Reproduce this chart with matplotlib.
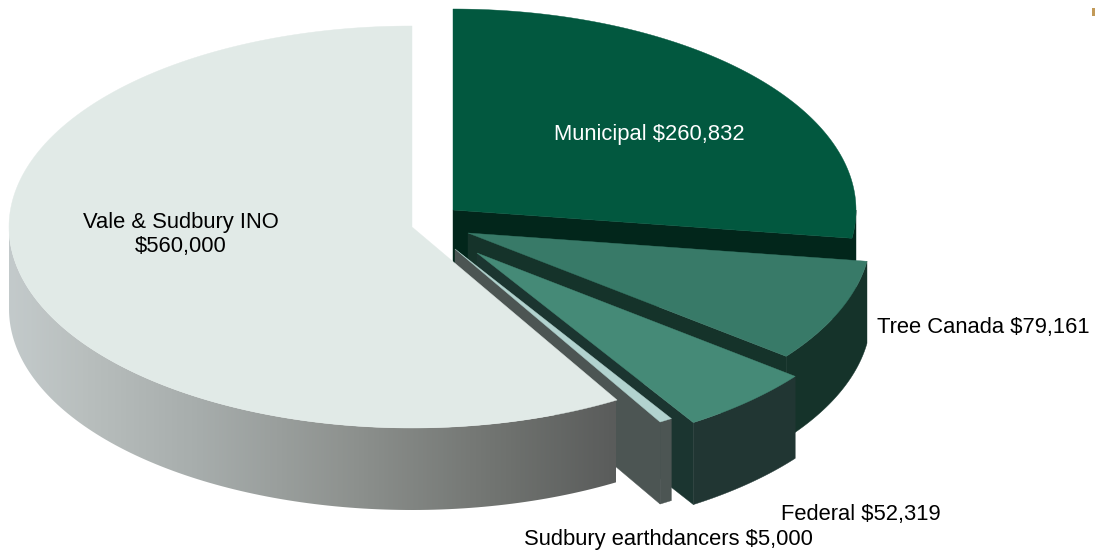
import numpy as np
import matplotlib
matplotlib.use("Agg")
import matplotlib.pyplot as plt
from matplotlib.patches import Polygon, Rectangle
from matplotlib.colors import LinearSegmentedColormap

# Data
categories = ["Municipal", "Tree Canada", "Federal", "Sudbury earthdancers", "Vale & Sudbury INO"]
values = [260832, 79161, 52319, 5000, 560000]
labels = ["Municipal $260,832", "Tree Canada $79,161", "Federal $52,319",
          "Sudbury earthdancers $5,000", "Vale & Sudbury INO\n$560,000"]

# Style / layout
apex = [(453, 210), (468, 233), (477, 253), (455, 249), (412, 227)]
top_colors = ["#02583f", "#387a68", "#458a77", "#b2d3cf", "#e1eae7"]
cut_colors = ["#02261b", "#15332a", "#1b3530", "#4c5553", "#5b5d5c"]
rim_colors = ["#02261b", "#15332a", "#213633", "#4c5553", None]
label_pos = [(649, 134.5, "center", "white"), (877, 328, "left", "black"),
             (781, 514.5, "left", "black"), (524, 539, "left", "black"),
             (181, 234.5, "center", "black")]
A, B, DEPTH = 403, 201, 82

plt.rcParams["font.family"] = ["Liberation Sans", "DejaVu Sans"]
fig = plt.figure(figsize=(10.95, 5.55), dpi=100)
ax = fig.add_axes([0, 0, 1, 1])


def pt(c, ang):
    a = np.radians(ang)
    return np.column_stack([c[0] + A * np.sin(a), c[1] - B * np.cos(a)])


def poly(xy, color, z):
    p = Polygon(xy, closed=True, facecolor=color, edgecolor=color, lw=0.3, zorder=z)
    ax.add_patch(p)
    return p


cum = np.cumsum([0] + values) / sum(values) * 360.0
wall_cmap = LinearSegmentedColormap.from_list(
    "wall", [(0.0, "#c3cacb"), (0.12, "#b9bfbe"), (0.32, "#a6acab"), (0.57, "#8d918e"),
             (0.82, "#6f726f"), (1.0, "#5a5c5b")])

for i, (v, c) in enumerate(zip(values, apex)):
    a0, a1 = cum[i], cum[i + 1]
    z = 10 + 3 * i
    # cut wall at the clockwise end
    if a1 <= 180:
        tip = pt(c, a1)[0]
        poly([c, tip, (tip[0], tip[1] + DEPTH), (c[0], c[1] + DEPTH)], cut_colors[i], z)
    # outer wall
    lo, hi = max(a0, 90), min(a1, 270)
    if hi > lo:
        arc = pt(c, np.linspace(lo, hi, 120))
        low = arc + [0, DEPTH]
        xy = np.vstack([arc, low[::-1]])
        if rim_colors[i] is None:
            p = poly(xy, "none", z + 1)
            p.set_edgecolor("none")
            im = ax.imshow(np.linspace(0, 1, 400)[None, :], cmap=wall_cmap, aspect="auto",
                           extent=(8, 616, 555, 0), zorder=z + 1)
            im.set_clip_path(p)
        else:
            poly(xy, rim_colors[i], z + 1)
    # top face
    arc = pt(c, np.linspace(a0, a1, 200))
    poly(np.vstack([[c], arc]), top_colors[i], z + 2)

for lab, (x, y, ha, col) in zip(labels, label_pos):
    ax.text(x, y, lab, ha=ha, va="center", color=col, fontsize=15.8, zorder=40,
            linespacing=1.17, multialignment="center")

ax.add_patch(Rectangle((1092, 8), 3, 8, facecolor="#c29a58", edgecolor="none", zorder=40))

ax.set_xlim(0, 1095)
ax.set_ylim(555, 0)
ax.axis("off")
fig.savefig("out.png", dpi=100, facecolor="white")
